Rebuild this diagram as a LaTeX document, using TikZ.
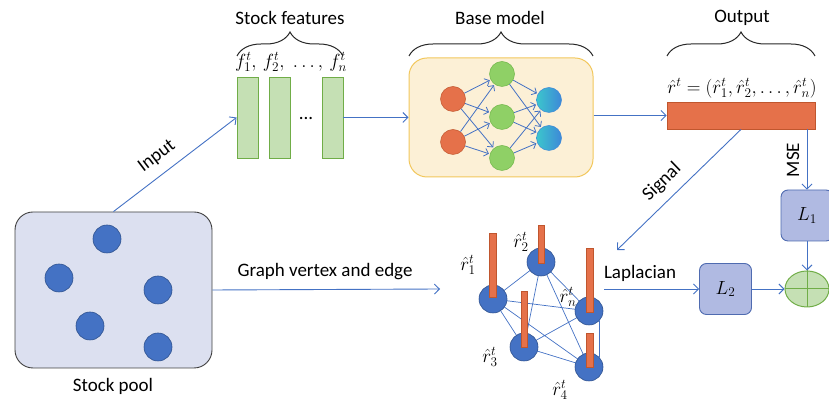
\documentclass[tikz,border=0pt]{standalone}
\usepackage{fix-cm}
\usepackage{fontspec}
\setmainfont{Carlito}
\usetikzlibrary{arrows.meta,decorations.pathreplacing,shapes.geometric,calc}
\definecolor{lblue}{HTML}{4472C4}
\definecolor{poolfill}{HTML}{DCE0F0}
\definecolor{dotblue}{HTML}{4472C4}
\definecolor{dotedge}{HTML}{2F528F}
\definecolor{gfill}{HTML}{C5E0B4}
\definecolor{gedge}{HTML}{70AD47}
\definecolor{yfill}{HTML}{FCF0D6}
\definecolor{yedge}{HTML}{F2C75C}
\definecolor{ofill}{HTML}{E5714A}
\definecolor{oedge}{HTML}{C0562E}
\definecolor{lfill}{HTML}{B0BAE2}
\definecolor{ledge}{HTML}{4F6BB0}
\definecolor{nngreen}{HTML}{8FD066}
\definecolor{nngreenedge}{HTML}{6FB548}
\definecolor{nncyanA}{HTML}{3CC6CC}
\definecolor{nncyanB}{HTML}{3D88D8}
\begin{document}
\begin{tikzpicture}[x=1pt,y=1pt,
  every node/.style={font=\fontsize{19}{22}\selectfont, inner sep=0pt},
  conn/.style={draw=lblue, line width=0.9pt},
  arr/.style={conn, -{Straight Barb[length=5pt,width=10pt]}},
  poolbox/.style={draw=black!75, fill=poolfill, line width=0.9pt, rounded corners=18pt},
  pooldot/.style={circle, fill=dotblue, draw=dotedge, line width=0.6pt, minimum size=28pt},
  featbar/.style={draw=gedge, fill=gfill, line width=0.9pt, minimum width=21pt, minimum height=81pt},
  basebox/.style={draw=yedge, fill=yfill, line width=1pt, rounded corners=18pt},
  rednode/.style={circle, fill=ofill, draw=oedge, line width=0.5pt, minimum size=25pt},
  grnnode/.style={circle, fill=nngreen, draw=nngreenedge, line width=0.5pt, minimum size=25pt},
  cyannode/.style={circle, left color=nncyanA, right color=nncyanB, draw=nncyanB, line width=0.5pt, minimum size=25pt},
  nnarr/.style={draw=lblue, line width=0.8pt, -{Straight Barb[length=4pt,width=8pt]}, shorten >=1pt},
  outbar/.style={draw=oedge, fill=ofill, line width=0.8pt},
  lossbox/.style={draw=ledge, fill=lfill, line width=0.9pt, rounded corners=7pt, minimum width=52pt, minimum height=51pt},
  gnode/.style={circle, fill=dotblue, draw=dotedge, line width=0.6pt, minimum size=28pt},
  gedgeline/.style={draw=lblue, line width=0.7pt},
  stick/.style={draw=oedge, fill=ofill, line width=0.6pt},
  bracedec/.style={draw=black!85, line width=1pt, decorate, decoration={brace, amplitude=24pt}}
]
\useasboundingbox (0,0) rectangle (829,403);

% ---------- stock pool ----------
\node[poolbox, minimum width=197pt, minimum height=156pt] (pool) at (113.5,113) {};
\node[pooldot] (p1) at (107,164) {};
\node[pooldot] (p2) at (59,125) {};
\node[pooldot] (p3) at (158,113) {};
\node[pooldot] (p4) at (90,77) {};
\node[pooldot] (p5) at (158,56) {};
\node (poollbl) at (113,17) {Stock pool};

% ---------- stock features ----------
\node[featbar] (f1) at (247.5,285.5) {};
\node[featbar] (f2) at (280,285.5) {};
\node[featbar] (f3) at (332.5,285.5) {};
\node (fdots) at (306,284) {...};
\node (flbl) at (291,341) {$f_1^t,\, f_2^t,\; \ldots,\, f_n^t$};
\draw[bracedec] (237,347) -- (343,347);
\node (feattitle) at (290,385) {Stock features};

% ---------- base model ----------
\node[basebox, minimum width=184pt, minimum height=119pt] (base) at (501,285.5) {};
\draw[bracedec] (409,347) -- (593,347);
\node (basetitle) at (500,385) {Base model};
\node[rednode] (r1) at (453,304) {};
\node[rednode] (r2) at (453,261) {};
\node[grnnode] (g1) at (502,329) {};
\node[grnnode] (g2) at (502,286) {};
\node[grnnode] (g3) at (502,245) {};
\node[cyannode] (c1) at (549,303) {};
\node[cyannode] (c2) at (549,265) {};
\foreach \a in {r1,r2}{\foreach \b in {g1,g2,g3}{\draw[nnarr] (\a) -- (\b);}}
\foreach \a in {g1,g2,g3}{\foreach \b in {c1,c2}{\draw[nnarr] (\a) -- (\b);}}

% ---------- output ----------
\node[outbar, minimum width=148pt, minimum height=27pt] (out) at (741,287.5) {};
\node (outlbl) at (742,315) {$\hat{r}^t = (\hat{r}_1^t, \hat{r}_2^t, \ldots, \hat{r}_n^t)$};
\draw[bracedec] (667,347) -- (815,347);
\node (outtitle) at (742,385) {Output};

% ---------- losses ----------
\node[lossbox] (L1) at (807,187.5) {$L_1$};
\node[lossbox] (L2) at (725.5,114) {$L_2$};
\node[ellipse, draw=gedge, fill=gfill, line width=1pt, minimum width=44pt, minimum height=36pt] (plus) at (807,114) {};
\draw[draw=gedge, line width=1pt] (plus.north) -- (plus.south) (plus.west) -- (plus.east);

% ---------- graph ----------
\coordinate (gn1) at (493,104);
\coordinate (gn2) at (541,141);
\coordinate (gnn) at (589,92);
\coordinate (gn3) at (524,56);
\coordinate (gn4) at (589,36);
\draw[gedgeline] (gn1) -- (gn2) (gn1) -- (gnn) (gn1) -- (gn3) (gn1) -- (gn4)
  (gn2) -- (gnn) (gn2) -- (gn3) (gn2) -- (gn4) (gn3) -- (gnn) (gn3) -- (gn4);
\draw[gedgeline] (599,82) -- (599,46);
\node[gnode] (n1) at (gn1) {};
\node[gnode] (n2) at (gn2) {};
\node[gnode] (nn) at (gnn) {};
\node[gnode] (n3) at (gn3) {};
\node[gnode] (n4) at (gn4) {};
\filldraw[stick] (489,106) rectangle (496,170);
\filldraw[stick] (538,140) rectangle (544,178);
\filldraw[stick] (586,91) rectangle (593,155);
\filldraw[stick] (521,56) rectangle (527,112);
\filldraw[stick] (586,36) rectangle (593,70);
\node (lr1) at (468,138) {$\hat{r}_1^t$};
\node (lr2) at (521,161) {$\hat{r}_2^t$};
\node (lrn) at (568,106) {$\hat{r}_n^t$};
\node (lr3) at (490,46) {$\hat{r}_3^t$};
\node (lr4) at (560,13) {$\hat{r}_4^t$};

% ---------- connectors ----------
\coordinate (gend) at (440,114);
\coordinate (lapstart) at (604,114);
\coordinate (sigend) at (617,153);
\draw[arr] (pool.north) -- (f1.west);
\node[rotate=37] (inputlbl) at (157,247) {Input};
\draw[arr] (f3.east) -- (base.west);
\draw[arr] (base.east |- out.west) -- (out.west);
\draw[arr] (out.south) -- (sigend);
\node[rotate=44] (siglbl) at (662,221) {Signal};
\draw[arr] (L1.north |- out.south) -- (L1.north);
\node[rotate=90] (mselbl) at (793,243) {MSE};
\draw[arr] (pool.east) -- (gend);
\node (gvlbl) at (325,131) {Graph vertex and edge};
\draw[arr] (lapstart) -- (L2.west);
\node (laplbl) at (640,130) {Laplacian};
\draw[arr] (L1.south) -- (plus.north);
\draw[arr] (L2.east) -- (plus.west);
\end{tikzpicture}
\end{document}
